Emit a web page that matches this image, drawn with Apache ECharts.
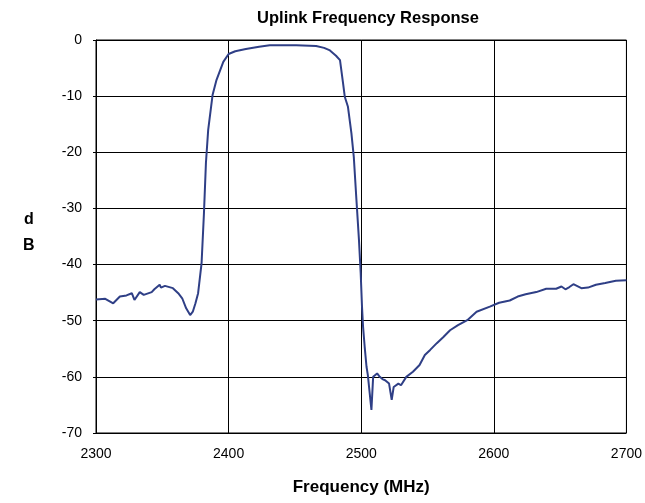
<!DOCTYPE html>
<html><head><meta charset="utf-8">
<script src="https://cdn.jsdelivr.net/npm/echarts@6/dist/echarts.min.js"></script>
<style>html,body{margin:0;padding:0;background:#fff}#c{width:645px;height:503px}</style>
</head><body><div id="c"></div>
<script>
var title = 'Uplink Frequency Response';
var xName = 'Frequency (MHz)';
var yNameLines = ['d', 'B'];
var xTicks = [2300, 2400, 2500, 2600, 2700];
var yTicks = [0, -10, -20, -30, -40, -50, -60, -70];
var freqMHz = [2300,2307,2313,2318,2323,2327,2329,2333,2336,2342,2344,2348,2349,2352,2358,2362,2365,2368,2371,2373,2375,2377,2379.6,2381.4,2382.9,2384.6,2387.9,2390.9,2396,2400,2405,2413,2423,2431,2451,2466,2472,2476,2481,2484,2486.3,2487.6,2490,2492.6,2494.4,2496.4,2498.3,2499.6,2500.6,2501.4,2502.6,2504,2505,2506,2507.7,2509,2510,2512,2514,2516,2518,2521,2523,2524.5,2526,2528,2530,2534,2539,2544,2548,2552,2557,2562,2567,2573,2580,2587,2597,2604,2612,2618,2624,2632,2639.5,2647,2651,2654,2657,2660,2666,2671,2677,2684,2692,2700];
var responseDb = [-46.2,-46.1,-46.9,-45.7,-45.5,-45.1,-46.3,-44.9,-45.4,-44.9,-44.4,-43.6,-44.1,-43.8,-44.2,-45.1,-46.0,-47.8,-49.0,-48.4,-46.9,-45.1,-39.8,-30.9,-21.9,-16.0,-9.8,-7.1,-3.9,-2.5,-2.0,-1.6,-1.2,-0.95,-0.95,-1.07,-1.4,-1.8,-2.8,-3.6,-7.7,-10.1,-11.9,-16.6,-20.8,-28.5,-35.6,-41.5,-47.5,-51.1,-54.6,-58.2,-59.7,-59.4,-65.9,-60.0,-59.7,-59.4,-60.0,-60.4,-60.6,-61.2,-64.1,-61.8,-61.9,-61.2,-61.5,-60.0,-59.1,-57.9,-56.1,-55.2,-54.0,-52.9,-51.7,-50.8,-49.9,-48.4,-47.5,-46.8,-46.4,-45.7,-45.3,-44.9,-44.3,-44.3,-43.9,-44.4,-44.0,-43.5,-44.2,-44.1,-43.6,-43.3,-42.9,-42.8];

var FONT = "'Liberation Sans Narrow','Arial Narrow','Liberation Sans',Arial,sans-serif";
var chart = echarts.init(document.getElementById('c'), null, {renderer: 'canvas'});
var pts = freqMHz.map(function (f, i) { return [f, responseDb[i]]; });
chart.setOption({
  animation: false,
  backgroundColor: '#fff',
  title: {text: title, left: 363, top: 5, textAlign: 'center',
    textStyle: {fontFamily: FONT, fontWeight: 'bold', fontSize: 16.5, color: '#000'}},
  grid: {left: 96, right: 18, top: 40, bottom: 70, show: true, borderColor: '#000', borderWidth: 1},
  xAxis: {type: 'value', min: xTicks[0], max: xTicks[xTicks.length - 1], interval: 100,
    name: xName, nameLocation: 'middle', nameGap: 46,
    nameTextStyle: {fontFamily: FONT, fontWeight: 'bold', fontSize: 17, color: '#000'},
    axisLine: {lineStyle: {color: '#000'}}, axisTick: {show: false},
    axisLabel: {fontFamily: FONT, fontSize: 14, color: '#000', margin: 14,
      formatter: function (v) { return String(v); }},
    splitLine: {show: true, lineStyle: {color: '#000', width: 1}}},
  yAxis: {type: 'value', min: yTicks[yTicks.length - 1], max: yTicks[0], interval: 10,
    axisLine: {show: true, lineStyle: {color: '#000'}},
    axisTick: {show: true, length: 3, lineStyle: {color: '#000'}},
    axisLabel: {fontFamily: FONT, fontSize: 14, color: '#000', margin: 14},
    splitLine: {show: true, lineStyle: {color: '#000', width: 1}}},
  graphic: [{type: 'text', left: 23, top: 207,
    style: {text: yNameLines.join('\n'), fontFamily: FONT, fontWeight: 'bold', fontSize: 16, lineHeight: 26, fill: '#000', textAlign: 'center'}}],
  series: [{type: 'line', data: pts, showSymbol: false, symbol: 'none',
    lineStyle: {color: '#2F3F86', width: 2}}]
});
</script></body></html>
